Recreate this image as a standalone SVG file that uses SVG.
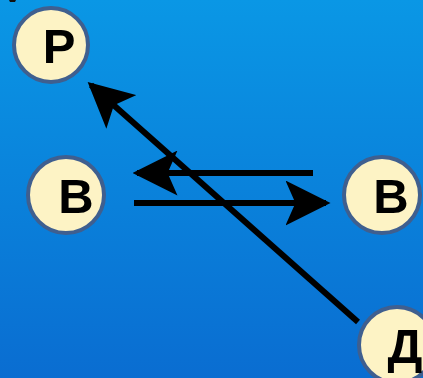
<svg xmlns="http://www.w3.org/2000/svg" width="423" height="378" viewBox="0 0 423 378">
  <defs>
    <linearGradient id="bg" x1="0" y1="0" x2="0" y2="1">
      <stop offset="0" stop-color="#0a97e5"/>
      <stop offset="1" stop-color="#0a6dd1"/>
    </linearGradient>
    <marker id="head" viewBox="0 0 10 10" refX="9" refY="5" markerWidth="7.5" markerHeight="7.5" markerUnits="strokeWidth" orient="auto">
      <path d="M0,0 L10,5 L0,10 L2.2,5 Z" fill="#000"/>
    </marker>
    <style>
      .node circle { fill: #fdf3c5; stroke: #3f5f8f; stroke-width: 4; }
      .node text { font-family: "Liberation Sans", Arial, sans-serif; font-weight: bold; font-size: 49px; fill: #000; text-anchor: middle; }
      .edge { stroke: #000; stroke-width: 6; fill: none; marker-end: url(#head); }
    </style>
  </defs>

  <rect width="423" height="378" fill="url(#bg)"/>
  <path d="M9,0 L16,0 L15,2 L10,2 Z" fill="#111"/>

  <g id="connectors">
    <line class="edge" x1="358" y1="322" x2="91" y2="85"/>
    <line class="edge" x1="313" y1="173" x2="137" y2="173"/>
    <line class="edge" x1="134" y1="203" x2="326" y2="203"/>
  </g>

  <g id="node-r" class="node">
    <circle cx="51" cy="45" r="37"/>
    <text x="59" y="63">Р</text>
  </g>
  <g id="node-b-left" class="node">
    <circle cx="66" cy="195" r="38"/>
    <text x="76" y="213">В</text>
  </g>
  <g id="node-b-right" class="node">
    <circle cx="382" cy="195" r="38"/>
    <text x="391" y="213">В</text>
  </g>
  <g id="node-d" class="node">
    <circle cx="397" cy="345" r="38"/>
    <text x="405" y="363">Д</text>
  </g>
</svg>
